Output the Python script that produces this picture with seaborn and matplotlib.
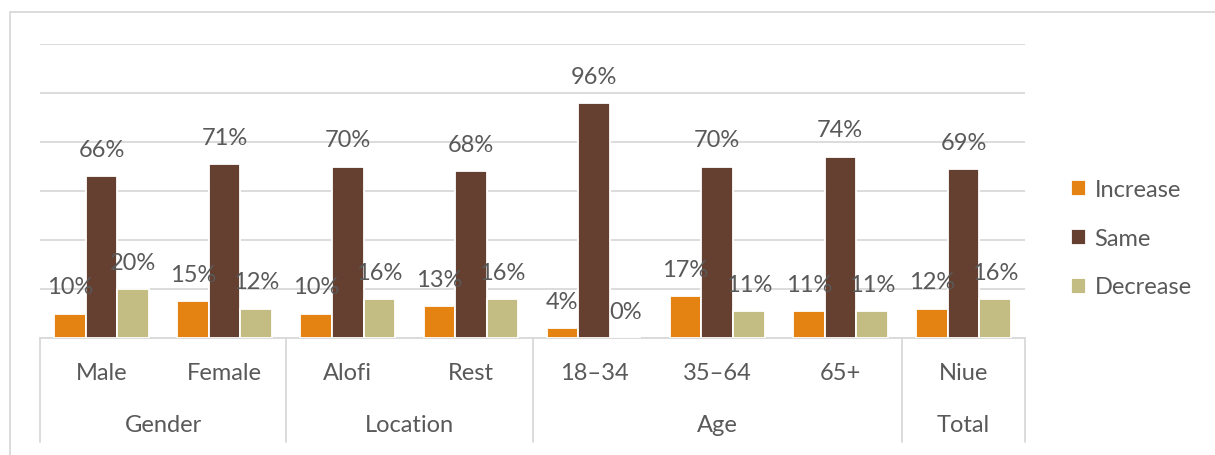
import matplotlib
matplotlib.use("Agg")
import matplotlib.pyplot as plt
from matplotlib.patches import Rectangle
import seaborn as sns
import pandas as pd

# Categories and their grouping on the two-level axis
categories = ["Male", "Female", "Alofi", "Rest", "18–34", "35–64", "65+", "Niue"]
groups = ["Gender", "Location", "Age", "Total"]
group_sizes = [2, 2, 3, 1]

# Share of respondents (%) per response
series = ["Increase", "Same", "Decrease"]
increase = [10, 15, 10, 13, 4, 17, 11, 12]
same = [66, 71, 70, 68, 96, 70, 74, 69]
decrease = [20, 12, 16, 16, 0, 11, 11, 16]

colors = ["#E48312", "#654031", "#C4BD83"]
text_color = "#595959"
grid_color = "#D9D9D9"
fs = 17

sns.set_theme(style="white")
plt.rcParams["font.family"] = ["Lato", "DejaVu Sans"]

df = pd.DataFrame({
    "category": categories * 3,
    "series": sum([[s] * len(categories) for s in series], []),
    "value": increase + same + decrease,
})

W, H, DPI = 1215, 455, 100
fig = plt.figure(figsize=(W / DPI, H / DPI), dpi=DPI)
ax = fig.add_axes([40 / W, 1 - 338 / H, (1025 - 40) / W, (338 - 44) / H])

sns.barplot(data=df, x="category", y="value", hue="series", order=categories,
            hue_order=series, palette=colors, width=0.77, saturation=1,
            edgecolor="white", linewidth=1.3, ax=ax, zorder=3)

ax.set_ylim(0, 120)
ax.set_xlim(-0.5, len(categories) - 0.5)
ax.set_yticks(range(0, 121, 20))
ax.yaxis.grid(True, color=grid_color, linewidth=1.3, zorder=0)
ax.set_axisbelow(True)
ax.set_yticklabels([])
ax.tick_params(left=False, bottom=False)
ax.set_xticklabels([])
ax.set_xlabel("")
ax.set_ylabel("")
for side in ["left", "right", "top"]:
    ax.spines[side].set_visible(False)
ax.spines["bottom"].set_color(grid_color)
ax.spines["bottom"].set_linewidth(1.3)

# Value labels above each bar
for container in ax.containers:
    for bar in container:
        h = bar.get_height()
        ax.annotate(f"{h:.0f}%", (bar.get_x() + bar.get_width() / 2, h),
                    xytext=(0, 11), textcoords="offset points",
                    ha="center", va="bottom", fontsize=fs, color=text_color,
                    zorder=5)

# Two-level category axis
axes_h = 338 - 44
y_cat = -(373 - 338) / axes_h
y_grp = -(425 - 338) / axes_h
y_sep = -(442 - 338) / axes_h
trans = ax.get_xaxis_transform()
for i, c in enumerate(categories):
    ax.text(i, y_cat, c, transform=trans, ha="center", va="center",
            fontsize=fs, color=text_color)

start = 0
seps = [-0.5]
for g, n in zip(groups, group_sizes):
    center = start + (n - 1) / 2
    ax.text(center, y_grp, g, transform=trans, ha="center", va="center",
            fontsize=fs, color=text_color)
    start += n
    seps.append(start - 0.5)
for x in seps:
    ax.plot([x, x], [0, y_sep], transform=trans, color=grid_color,
            linewidth=1.3, clip_on=False)

# Legend on the right
handles, labels = ax.get_legend_handles_labels()
ax.legend(handles, labels, loc="center left",
          bbox_to_anchor=(1071 / W, 1 - 239 / H), bbox_transform=fig.transFigure,
          frameon=False, fontsize=fs, labelcolor=text_color,
          handlelength=0.65, handleheight=0.65, handletextpad=0.35,
          labelspacing=1.18, borderpad=0, borderaxespad=0)

# Chart area border
fig.patches.append(Rectangle((10 / W, -0.1), 1.2, 1 - 12 / H + 0.1,
                             transform=fig.transFigure, fill=False,
                             edgecolor=grid_color, linewidth=1.3))

fig.savefig("out.png", dpi=DPI, facecolor="white")
